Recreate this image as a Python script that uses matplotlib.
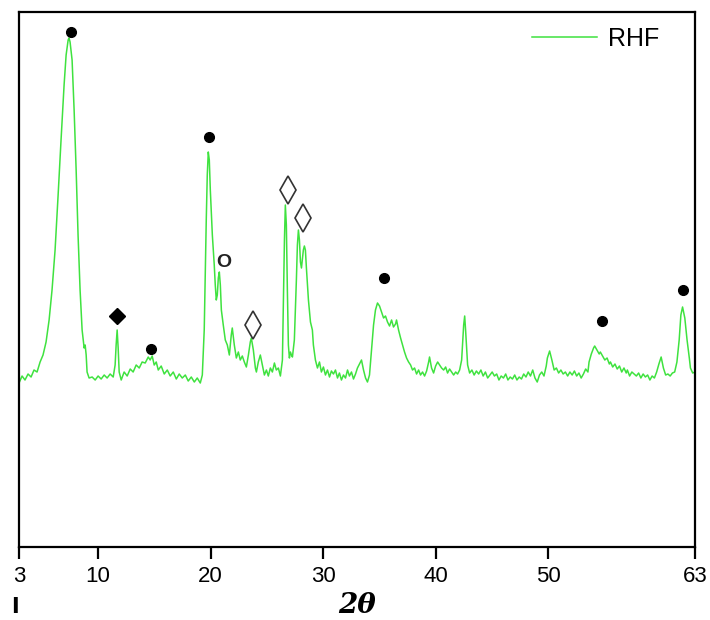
import matplotlib
matplotlib.use("Agg")
import matplotlib.pyplot as plt

# XRD pattern of RHF (2theta in degrees, intensity in arbitrary units)
two_theta = [
    3.00, 3.27, 3.53, 3.80, 4.07, 4.33, 4.60, 4.87, 5.13, 5.40, 5.67, 5.93, 6.20, 6.47, 6.73,
    7.00, 7.18, 7.36, 7.44, 7.53, 7.71, 7.89, 8.07, 8.24, 8.42, 8.60, 8.78, 8.87, 8.96, 9.04,
    9.22, 9.49, 9.76, 10.02, 10.29, 10.56, 10.82, 11.09, 11.36, 11.53, 11.62, 11.71, 11.80, 11.89,
    12.07, 12.33, 12.60, 12.87, 13.13, 13.40, 13.67, 13.93, 14.20, 14.47, 14.64, 14.82, 15.00,
    15.18, 15.36, 15.62, 15.89, 16.16, 16.42, 16.69, 16.96, 17.22, 17.49, 17.76, 18.02, 18.29,
    18.56, 18.82, 19.09, 19.27, 19.44, 19.62, 19.71, 19.80, 19.89, 19.98, 20.16, 20.33, 20.42,
    20.51, 20.60, 20.69, 20.78, 20.87, 20.96, 21.13, 21.31, 21.49, 21.67, 21.84, 21.93, 22.11,
    22.29, 22.47, 22.64, 22.82, 23.00, 23.18, 23.36, 23.53, 23.62, 23.80, 23.98, 24.07, 24.24,
    24.42, 24.60, 24.78, 24.96, 25.13, 25.31, 25.49, 25.67, 25.84, 26.02, 26.20, 26.38, 26.47,
    26.56, 26.64, 26.73, 26.82, 26.91, 27.00, 27.09, 27.18, 27.27, 27.44, 27.62, 27.71, 27.80,
    27.89, 27.98, 28.07, 28.16, 28.24, 28.33, 28.42, 28.51, 28.69, 28.87, 29.04, 29.13, 29.31,
    29.49, 29.67, 29.84, 30.02, 30.20, 30.38, 30.56, 30.73, 30.91, 31.09, 31.27, 31.44, 31.62,
    31.80, 31.98, 32.16, 32.33, 32.51, 32.69, 32.87, 33.04, 33.22, 33.40, 33.58, 33.76, 33.93,
    34.11, 34.29, 34.47, 34.64, 34.82, 35.00, 35.18, 35.36, 35.53, 35.71, 35.89, 36.07, 36.24,
    36.42, 36.51, 36.69, 36.87, 37.04, 37.22, 37.40, 37.58, 37.76, 37.93, 38.11, 38.29, 38.47,
    38.64, 38.82, 39.00, 39.18, 39.36, 39.44, 39.62, 39.80, 39.98, 40.16, 40.33, 40.51, 40.69,
    40.87, 41.04, 41.22, 41.40, 41.58, 41.76, 41.93, 42.11, 42.29, 42.47, 42.56, 42.64, 42.82,
    43.00, 43.2, 43.4, 43.6, 43.8, 44.0, 44.2, 44.4, 44.6, 44.8, 45.0, 45.2, 45.4, 45.6, 45.8,
    46.0, 46.2, 46.4, 46.6, 46.8, 47.0, 47.2, 47.4, 47.6, 47.8, 48.0, 48.2, 48.4, 48.6, 48.8,
    49.0, 49.2, 49.4, 49.6, 49.8, 49.9, 50.1, 50.3, 50.5, 50.7, 50.9, 51.1, 51.3, 51.5, 51.7,
    51.9, 52.1, 52.3, 52.5, 52.7, 52.9, 53.1, 53.3, 53.5, 53.6, 53.8, 54.0, 54.1, 54.3, 54.5,
    54.6, 54.8, 55.0, 55.2, 55.4, 55.5, 55.7, 55.9, 56.1, 56.3, 56.5, 56.7, 56.9, 57.0, 57.2,
    57.4, 57.6, 57.8, 58.0, 58.2, 58.4, 58.6, 58.8, 59.0, 59.2, 59.4, 59.6, 59.8, 60.0, 60.2,
    60.4, 60.6, 60.8, 61.0, 61.2, 61.4, 61.6, 61.75, 61.9, 62.1, 62.3, 62.5, 62.6, 62.8, 63.0,
]
intensity = [
    164, 171, 167, 173, 170, 177, 175, 185, 192, 205, 227, 257, 297, 352, 407,
    462, 492, 507, 509, 505, 487, 437, 377, 312, 257, 217, 199, 202, 192, 175,
    169, 170, 167, 171, 168, 172, 169, 173, 170, 182, 202, 217, 199, 175,
    167, 175, 171, 178, 175, 182, 179, 185, 184, 190, 187, 191, 182,
    185, 177, 181, 173, 177, 171, 175, 168, 173, 169, 172, 166, 170,
    165, 169, 164, 172, 217, 327, 372, 395, 387, 357, 312, 282, 262,
    247, 252, 269, 275, 262, 237, 222, 207, 202, 192, 212, 219, 202,
    189, 195, 187, 191, 185, 180, 192, 205, 209, 197, 179, 175, 185,
    192, 182, 172, 177, 171, 179, 175, 184, 177, 179, 171, 187, 247,
    307, 342, 322, 257, 202, 189, 195, 192, 190, 207, 267, 302, 317,
    307, 285, 279, 289, 297, 301, 297, 279, 247, 225, 217, 202, 187,
    179, 185, 175, 180, 172, 177, 170, 176, 173, 177, 169, 174, 167,
    172, 169, 177, 171, 175, 168, 173, 179, 183, 187, 177, 169, 165,
    172, 197, 222, 237, 244, 241, 235, 229, 231, 225, 221, 227, 220,
    223, 227, 217, 209, 202, 195, 189, 185, 182, 177, 179, 173, 177,
    172, 175, 171, 176, 185, 190, 179, 174, 181, 185, 182, 179, 177,
    180, 174, 178, 175, 172, 175, 173, 177, 187, 222, 231, 217, 182,
    174, 177, 172, 176, 173, 177, 171, 175, 169, 172, 175, 171, 173, 167, 171,
    169, 173, 167, 170, 168, 172, 167, 170, 168, 173, 170, 175, 171, 177, 169,
    165, 172, 175, 171, 181, 189, 196, 187, 177, 179, 174, 177, 173, 175, 171,
    175, 172, 176, 171, 174, 169, 173, 178, 175, 185, 193, 199, 201, 197, 193,
    195, 191, 187, 189, 183, 185, 180, 183, 178, 181, 175, 179, 174, 177, 171,
    175, 173, 171, 174, 169, 173, 170, 172, 167, 171, 169, 175, 183, 190, 179,
    172, 173, 171, 174, 175, 185, 207, 232, 240, 229, 207, 189, 179, 174, 175,
]

# phase markers
circle_x = [7.62, 14.73, 19.89, 35.36, 54.73, 61.93]
circle_y = [515, 198, 410, 269, 226, 257]
filled_diamond_x = [11.71]
filled_diamond_y = [231]
open_diamond_x = [23.8, 26.9, 28.24]
open_diamond_y = [222, 357, 329]
o_label_x = [21.2]
o_label_y = [284]

xticks = [3, 10, 20, 30, 40, 50, 63]

fig = plt.figure(figsize=(7.1, 6.2), dpi=100)
ax = fig.add_axes([0.0268, 0.1177, 0.952, 0.863])

ax.plot(two_theta, intensity, color="#3fe23f", lw=1.1, label="RHF")
ax.plot(circle_x, circle_y, "o", color="black", ms=7, ls="none")
ax.plot(filled_diamond_x, filled_diamond_y, "D", color="black", ms=8, ls="none")
ax.plot(open_diamond_x, open_diamond_y, "d", mfc="white", mec="#333333", mew=1.2, ms=14, ls="none")
for x, y in zip(o_label_x, o_label_y):
    ax.text(x, y, "O", ha="center", va="center", fontsize=14, fontweight="bold",
            family="Liberation Sans", color="#222222")

ax.set_xlim(3, 63)
ax.set_ylim(0, 535)
ax.set_yticks([])
ax.set_xticks(xticks)
ax.set_xticklabels([str(t) for t in xticks], family="Liberation Sans", fontsize=16)
ax.tick_params(axis="x", direction="out", length=8.5, width=1.6, pad=5)
for s in ax.spines.values():
    s.set_linewidth(1.6)

ax.set_xlabel("2θ", fontsize=20, fontweight="bold", fontstyle="italic", family="DejaVu Serif", labelpad=4)

ax.legend(loc="center left", bbox_to_anchor=(0.759, 0.9495), frameon=False,
          borderpad=0, borderaxespad=0, handlelength=2.6, handletextpad=0.45,
          prop={"family": "Liberation Sans", "size": 18})

fig.text(0.021, 1 - 607 / 620, "I", fontsize=15, fontweight="bold", ha="center", va="center",
         family="DejaVu Sans")

fig.savefig("out.png", dpi=100)
